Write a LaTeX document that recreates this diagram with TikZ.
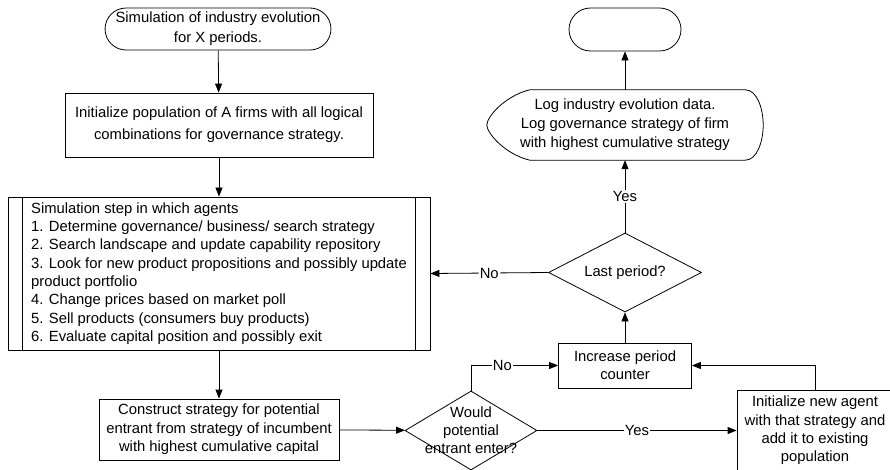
\documentclass[tikz,border=0pt]{standalone}
\usepackage{fontspec}
\setmainfont{Liberation Sans}
\usetikzlibrary{arrows.meta,shapes.geometric,shapes.misc}

\begin{document}
\begin{tikzpicture}[x=1pt,y=-1pt,
    every node/.style={font=\fontsize{14.8}{19}\selectfont, inner sep=2pt},
    flowline/.style={draw, line width=0.8pt, -{Triangle[length=9pt,width=7pt]}},
    plainline/.style={draw, line width=0.8pt},
    terminal/.style={rounded rectangle, draw, line width=0.8pt},
    procbox/.style={rectangle, draw, line width=0.8pt, align=center},
    decision/.style={diamond, draw, line width=0.8pt, aspect=1.9, inner sep=0pt},
    edgelabel/.style={fill=white, inner sep=1pt}
]
\useasboundingbox (0,0) rectangle (890,470);

% left column
\node[terminal, minimum width=225pt, minimum height=42pt, align=center,
      font=\fontsize{14.8}{20}\selectfont] (start) at (218,29)
    {Simulation of industry evolution\\for X periods.};
\node[procbox, minimum width=308pt, minimum height=64pt,
      font=\fontsize{14.8}{22}\selectfont] (init) at (219,125)
    {Initialize population of A firms with all logical\\combinations for governance strategy.};
\node[procbox, align=left, minimum width=422pt, minimum height=153pt,
      font=\fontsize{14.8}{18.3}\selectfont] (step) at (219,273.5)
    {Simulation step in which agents\\
     1. Determine governance/ business/ search strategy\\
     2. Search landscape and update capability repository\\
     3. Look for new product propositions and possibly update\\
     product portfolio\\
     4. Change prices based on market poll\\
     5. Sell products (consumers buy products)\\
     6. Evaluate capital position and possibly exit};
\draw[plainline] ([xshift=15pt]step.north west) -- ([xshift=15pt]step.south west);
\draw[plainline] ([xshift=-15pt]step.north east) -- ([xshift=-15pt]step.south east);
\node[procbox, minimum width=240pt, minimum height=61pt,
      font=\fontsize{14.8}{18.5}\selectfont] (construct) at (219,429.5)
    {Construct strategy for potential\\entrant from strategy of incumbent\\with highest cumulative capital};

% bottom row
\node[decision, minimum width=132pt, minimum height=79pt] (enter) at (471,430.5) {};
\node[align=center, font=\fontsize{14.8}{18}\selectfont] (entertext) at (enter) {Would\\potential\\entrant enter?};
\node[procbox, minimum width=133pt, minimum height=45pt,
      font=\fontsize{14.8}{18}\selectfont] (counter) at (625,365.5)
    {Increase period\\counter};
\node[procbox, minimum width=156pt, minimum height=80pt,
      font=\fontsize{14.8}{18.3}\selectfont] (agent) at (815,430.5)
    {Initialize new agent\\with that strategy and\\add it to existing\\population};

% right column
\node[decision, minimum width=153pt, minimum height=79pt] (last) at (625,272.5) {Last period?};
\node[minimum width=276pt, minimum height=70pt, align=center] (log) at (625,125)
    {Log industry evolution data.\\Log governance strategy of firm\\with highest cumulative strategy};
\draw[plainline] ([xshift=43pt]log.north west) -- ([xshift=-18pt]log.north east)
    .. controls ([xshift=-6pt]log.north east) and ([yshift=16pt]log.east) .. (log.east)
    .. controls ([yshift=-16pt]log.east) and ([xshift=-6pt]log.south east) .. ([xshift=-18pt]log.south east)
    -- ([xshift=43pt]log.south west)
    .. controls ([xshift=18pt,yshift=6pt]log.south west) and ([yshift=-8pt]log.west) .. (log.west)
    .. controls ([yshift=8pt]log.west) and ([xshift=18pt,yshift=-6pt]log.north west) .. ([xshift=43pt]log.north west);
\node[terminal, minimum width=116pt, minimum height=43pt] (end) at (625,29.5) {};

% connectors
\draw[flowline] (start) -- (init);
\draw[flowline] (init) -- (step);
\draw[flowline] (step) -- (construct);
\draw[flowline] (construct) -- (enter);
\draw[flowline] (enter.north) |- node[edgelabel, pos=0.68] {No} (counter.west);
\draw[flowline] (enter.east) -- node[edgelabel] {Yes} (agent.west);
\draw[flowline] (agent.north) |- (counter.east);
\draw[flowline] (counter) -- (last);
\draw[flowline] (last.west) -- node[edgelabel] {No} (step.east);
\draw[flowline] (last.north) -- node[edgelabel] {Yes} (log.south);
\draw[flowline] (log.north) -- (end);
\end{tikzpicture}
\end{document}
